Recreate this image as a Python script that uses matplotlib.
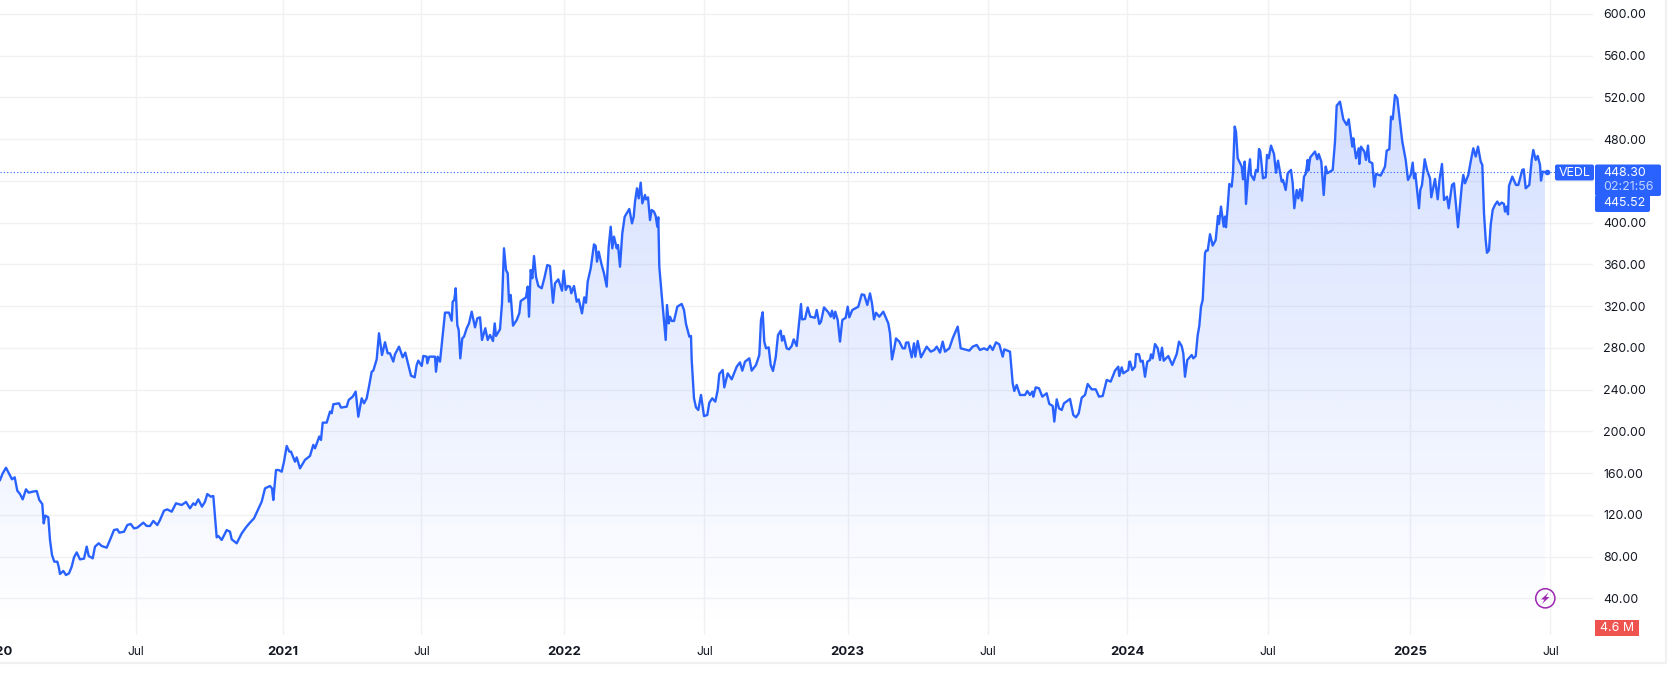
import matplotlib
matplotlib.use("Agg")
import matplotlib.pyplot as plt
from matplotlib.patches import Circle, FancyBboxPatch, Polygon, Rectangle
import numpy as np

plt.rcParams["font.family"] = "Inter"

# x is the position on the chart's own time scale, y is the price
bars = [
    0, 2.7, 6, 9.3, 12, 14.7, 17.3, 20, 22.7, 26, 28.7, 32.7, 36.7, 39.3, 42.3, 43.7, 45.3, 48.3, 50, 52,
    54.3, 57.3, 58.7, 60, 63.3, 66, 69, 71.7, 74, 76.7, 80, 84, 86.7, 88.7, 92.7, 95, 98.7, 101.7, 106.7, 110,
    114, 117.3, 119.3, 124, 127.3, 130.7, 134, 137.3, 143.3, 146.7, 150, 153.3, 157.3, 160, 164, 167.3, 171.7, 176, 181.7, 186,
    190, 193.3, 195.3, 198.3, 202, 205, 207.3, 210.7, 213.3, 215, 216.7, 218.3, 221.7, 226.7, 230, 231.7, 236.7, 241.7, 246, 249.3,
    254, 261.7, 265, 270, 272, 273.3, 276, 278.7, 281.7, 284, 286.7, 289.3, 291, 295, 296.7, 300,
    305, 310, 313.3, 315, 319.3, 321, 322.7, 326.7, 330, 331.7, 333.3, 339, 341, 346.7, 348.7, 352.7, 355.7, 358.3, 361.7, 364,
    366.7, 369.3, 371.7, 373.3, 376.7, 379, 382, 385, 387.7, 390, 393.3, 395, 399, 402.7, 405.3, 408.3, 411, 414.7, 416.7, 418.3,
    421.7, 423.3, 426.7, 427.3, 429.3,
    431.7, 435, 436, 437.7, 440, 442, 445, 449, 451.7, 452.7, 454.3, 455.7, 457.3, 458.7, 460.3, 462.3, 464, 466.7, 469, 471.7,
    475, 477.3, 480, 482, 485.3, 487.7, 490, 493, 494.7, 496, 500, 502, 504, 506, 507.7, 509, 510.7, 513, 516.7, 519.3,
    520.7, 526, 527.7, 529, 530.7, 532.3, 534, 536, 538.3, 541.7, 544.3, 547.3, 550, 553, 555, 558.3, 562, 563.7, 565.7, 567.7,
    570, 571.3, 574, 576.7, 578.7, 582, 584.3, 586, 587.7, 590.7, 594, 595.7, 597, 598.7, 601.3, 604, 606.7, 608.7, 610.7, 612.3,
    614, 616.7, 618, 620, 622.3, 624.7, 629.3, 632, 633.7, 635, 637, 638.7, 640.7, 642.3, 645, 646, 648, 650, 651.7, 654,
    655.7, 657.3, 658.3, 659.3, 661.7, 665.7, 667, 668.7, 670, 671.7, 674, 677.3, 681.7, 684, 686, 689.3, 691,
    691.7, 694, 696, 698.3, 701, 704, 707.3, 709.3, 712.3, 715.3, 717.7, 719.3, 722.7, 724.3, 727.7, 731.7, 736.7, 740, 742.3, 745,
    749.3, 751.7, 756, 759.3, 761, 762.7, 764.3, 766, 768.7, 770.7, 773, 775.7, 778, 780.7, 782, 783.7, 786.7, 789, 791.7, 793.7,
    796.7, 799.3, 801, 802, 805, 807.7, 810.3, 815, 816.7, 819.3, 821, 824, 828.3, 830.7, 832, 834, 835.3, 837.7, 840, 842.3,
    845.7, 847.7, 849.3, 852.3, 858.3, 861.7, 864.3, 867.3, 870, 872, 874, 876, 879.3, 883.3, 888.3, 890, 892, 894, 896, 899.3,
    902.7, 905, 906, 908.3, 911.7, 914, 915.3, 917.7, 921, 926.7, 930.7, 934.3, 936.7, 940, 942.7, 945, 949.3, 952.7, 957.7, 960.7,
    969.3, 972.7, 976.7, 980, 984, 987.3, 990, 992.7, 996, 999.3, 1002.7, 1004.3, 1010, 1012.7, 1014.3, 1016.7, 1020, 1025, 1027.3, 1030,
    1032.3, 1033.3, 1035.7, 1039, 1042.3, 1046.7, 1049.3, 1052.7, 1054.3, 1056.7, 1059, 1061.7, 1064, 1070, 1073.3, 1076, 1078.7, 1081.7, 1085, 1087.7,
    1091.7, 1095.7, 1099, 1102.7, 1106.7, 1110.7, 1115, 1118.3, 1119.3, 1121.7, 1123.3, 1128.3, 1129.3,
    1130, 1132.3, 1135, 1136, 1139, 1140.7, 1142.7, 1145, 1147.3, 1150, 1151, 1152.7, 1155, 1157.7, 1160, 1162, 1163.7, 1168.3, 1172.3, 1176.7,
    1179, 1181.7, 1183.3, 1185, 1187.3, 1191.7, 1193.3, 1195.7, 1197.7, 1199.3, 1201, 1202.7, 1205,
    1206, 1207.7, 1210, 1212.7, 1215.7, 1218, 1219, 1221, 1223.7, 1225, 1226, 1227.7, 1229.3, 1231.7, 1233, 1234.7, 1236, 1237.7, 1241.7, 1243,
    1244.7, 1246, 1248.3, 1250, 1251, 1254, 1256, 1257.7, 1259, 1260.3, 1263, 1265.7, 1267, 1268.7, 1271, 1274, 1276, 1278, 1281.7, 1283,
    1285.7, 1287.7, 1291, 1292.7, 1294.3, 1296.7, 1298.3, 1300, 1302, 1304, 1305.7, 1307.7, 1308.3, 1310.3, 1315, 1317.3, 1318.7, 1321.3, 1323.7, 1325.7,
    1327.3, 1332.7, 1335, 1336.7, 1340, 1343.3, 1346.7, 1348.7, 1352.3, 1353.3, 1356, 1358.7, 1359.3, 1361, 1364.3, 1366, 1368, 1369.3, 1372.3, 1374.3,
    1376, 1380.7, 1385, 1386.7, 1389.3, 1391, 1392.7, 1395, 1397.3, 1402.3, 1405.7, 1408, 1410.7, 1412.7, 1414, 1415.3, 1419, 1420.3, 1422, 1424.7,
    1427, 1430, 1431.3, 1435, 1437.7, 1439.7, 1442, 1444, 1447, 1448.7, 1452, 1454, 1458,
    1461.7, 1463.3, 1465, 1468.3, 1471, 1473.3, 1475.7, 1478, 1480.7, 1482.3, 1484, 1485.7, 1487, 1489, 1490.7, 1492.7, 1495, 1497.3, 1499.3, 1501.7,
    1504, 1505, 1506.7, 1508, 1509, 1512.3, 1516, 1518.3, 1522.3, 1523.7, 1525.7, 1529.3, 1531.7, 1533.3, 1535.7, 1537.7, 1540, 1541, 1542.7, 1545,
]
prices = [
    153.3, 159.7, 165.1, 159.1, 154, 155.9, 143.1, 139.9, 134.8, 144.4, 141.2, 142.2, 142.8, 134.2, 130.3, 111.8, 119.2, 117.6, 95.9, 81.5,
    75.1, 75.1, 70.3, 63.3, 66.2, 62.3, 63.9, 70.3, 79.2, 84, 77.3, 78, 89.5, 80.5, 78.3, 89.5, 92.7, 90.1, 88.5, 95.9,
    105.4, 106.1, 102.9, 103.8, 110.2, 111.2, 107, 107.7, 112.5, 109.3, 109.3, 114.1, 110.2, 115, 124, 125.2, 123, 131, 129.4, 132.3,
    126.2, 131, 129.4, 134.8, 127.8, 132.6, 139.9, 137.4, 138, 118.2, 98.4, 99.7, 95.9, 105.4, 103.8, 96.5, 92.7, 102.2, 108, 111.8,
    116.6, 132.6, 145.3, 147.6, 145.3, 134.2, 162.9, 162.9, 161.3, 170.9, 185.9, 180.5, 180.5, 170.9, 175, 164.5,
    172.6, 176.4, 187, 183.7, 195, 191.7, 208.3, 208.3, 218.9, 217.3, 225.9, 226.8, 222.7, 223.6, 230, 233.2, 238, 214, 231.6, 226.8,
    231.6, 244.4, 257.2, 258.1, 269, 293.9, 273.1, 285.3, 274.7, 274.7, 266.8, 273.8, 281.1, 270.9, 275.4, 263.6, 253.3, 251.7, 263.6, 267.7,
    262.6, 272.2, 271.5, 265.2, 271.5,
    271.5, 271.5, 257.1, 271.5, 266.7, 285.9, 313.7, 313.7, 306, 324.2, 325.8, 337, 301.8, 297, 269.9, 289.1, 290.7, 298.7, 303.4, 314.6,
    299.6, 308.2, 309.2, 287.5, 298.7, 287.5, 292.3, 286.5, 303.4, 291.3, 297.7, 322.6, 375.3, 354.5, 351.3, 324.2, 330.6, 301.2, 306.6, 313,
    324.8, 328.3, 338.6, 309.8, 354.5, 346.6, 367.9, 348.1, 339.2, 337, 346.6, 359.3, 358.3, 323.2, 341.8, 345.6, 334.7, 353.9, 335.4, 339.2,
    338.6, 332.2, 339.2, 324.2, 326.4, 313, 328.3, 323.2, 343.4, 356.1, 379.1, 377.5, 362.5, 372.1, 360.9, 351.3, 338.6, 376.9, 396, 375.3,
    386.5, 375.3, 378.5, 357.7, 389.7, 405.6, 413, 399.2, 405.6, 420, 432.8, 423.2, 438.2, 418.4, 426.4, 422.2, 424.1, 402.4, 412, 410.4,
    406.3, 396, 405, 357.7, 330.6, 287.5, 321, 303.4, 309.8, 305.7, 305.7, 319.4, 322, 316.2, 302.8, 290.7, 291.3,
    268.3, 231.6, 222.9, 220.4, 234.8, 214.6, 215.6, 227.4, 231.6, 228.4, 239.5, 254.9, 258.7, 242.1, 255.5, 249.8, 261.9, 266, 258.1, 266.7,
    269.9, 258.1, 263.5, 273.1, 306.6, 314, 285.9, 279.5, 280.4, 263.5, 257.8, 270.8, 292.2, 296.4, 286.8, 291.3, 279.5, 278.5, 281.7, 288.1,
    281.7, 306.6, 321.9, 307.2, 307.6, 318.7, 309.8, 308.8, 316.2, 302.8, 305, 318.7, 314, 309.8, 315.5, 308.2, 314.6, 306.6, 285.9, 306.6,
    308.8, 319.4, 309.2, 316.2, 319.4, 331.2, 330.6, 321, 332.1, 322.6, 307.2, 313.6, 309.8, 314.6, 303.4, 293.8, 268.9, 277.9, 289, 285.9,
    279.5, 279.5, 284.9, 285.2, 270.9, 284.3, 271.5, 286.5, 270.9, 281.1, 276.3, 277.9, 281.1, 275.4, 285.9, 276.3, 279.5, 289.1, 300.3, 279.5,
    277.3, 281.1, 282.7, 277.9, 279.5, 277.9, 282, 277.9, 285.2, 283.3, 271.5, 278.5, 276.3, 246, 238.6, 244.4, 234.8, 234.8, 238.6, 234.8,
    238, 233.2, 242.1, 241.2, 233.2, 236.4, 226.2, 224.3, 209.3, 230.6, 222, 220.4, 226.8, 231, 215.6, 213.4, 217.2, 232.2, 234.8, 245.3,
    240.2, 240.2, 233.2, 233.8, 249.2, 247.6, 258.1, 261.9, 253, 261.3, 255.6, 258.7, 266.7,
    266.7, 258.7, 261.9, 274, 273.7, 266.7, 267.6, 252.3, 266.7, 268.3, 273.7, 269.9, 283.6, 279.5, 268.3, 280.1, 267.6, 272.1, 263.5, 274,
    285.9, 281.7, 274.7, 252.3, 268.3, 273.1, 269.9, 272.1, 292.2, 300.9, 319.4, 325.8, 370.5,
    373.1, 373.1, 388.8, 377.9, 383.3, 406.3, 398.7, 415.3, 396.1, 405.7, 395.5, 415.3, 437, 434.4, 447.2, 491.9, 487.1, 461.6, 453.6, 441.4,
    458.4, 417.8, 447.2, 460.6, 445.6, 440.8, 450.4, 448.8, 470.5, 468, 442.4, 443.4, 464.8, 461.6, 473.7, 465.7, 447.8, 459.3, 439.2, 440.8,
    431.2, 447.2, 450.4, 437.6, 413.7, 431.2, 423.2, 431.9, 421, 444, 446.6, 460, 449.7, 462.5, 468, 460.6, 465.7, 458.4, 426.4, 453.6,
    447.2, 450.4, 477.5, 512, 515.8, 498.9, 493.5, 498.9, 472.8, 480.7, 461.6, 471.1, 456.1, 472.7, 468, 460, 473.7, 458.4, 456.8, 434.4,
    446.6, 445, 453.6, 468.9, 470.2, 501.5, 498.9, 522.2, 519, 477.5, 460, 440.8, 445.6, 457.4, 442.4, 447.2, 413.7, 431.2, 436, 460.6,
    450.4, 442.4, 424.2, 441.8, 422.3, 442.4, 456.1, 421.6, 424.8, 413.7, 436, 437.6, 395.5,
    434.4, 445.6, 437.6, 445.6, 460, 471.1, 463.2, 472.7, 458.4, 455.2, 408.9, 383.3, 371, 373.5, 397.7, 412.1, 416.9, 420.1, 416.9, 419.1,
    417.8, 410.5, 415.3, 407.9, 435.1, 444, 436, 436, 450.4, 451, 432.8, 436, 460, 469.5, 460, 463.8, 455.2, 440.2, 448.8, 448.3,
]

y_ticks = [40, 80, 120, 160, 200, 240, 280, 320, 360, 400, 440, 480, 520, 560, 600]
# 440.00 sits behind the price tags in the reference
y_labels = ["40.00", "80.00", "120.00", "160.00", "200.00", "240.00", "280.00", "320.00", "360.00", "400.00", "",
            "480.00", "520.00", "560.00", "600.00"]
x_ticks = [135.7, 282.7, 421.3, 564.3, 704.4, 847.7, 987.7, 1127.3, 1267.7, 1410.3, 1550.3]
x_labels = ["Jul", "2021", "Jul", "2022", "Jul", "2023", "Jul", "2024", "Jul", "2025", "Jul"]

last_price = 448.30
countdown = "02:21:56"
prev_label = "445.52"
volume_label = "4.6 M"
symbol = "VEDL"

W, H = 1676, 699
BLUE = "#2962ff"

fig = plt.figure(figsize=(W / 100, H / 100), dpi=100)
fig.patch.set_facecolor("white")
ax = fig.add_axes([0, 1 - 635 / H, 1593 / W, 635 / H])
ax.set_xlim(0, 1593)
ax.set_ylim(4.84, 613.2)

# gradient under the line, clipped to the area below the series
top, bottom = 522, 10
grad = np.zeros((256, 2, 4))
grad[..., :3] = matplotlib.colors.to_rgb(BLUE)
grad[..., 3] = np.linspace(0.2, 0, 256)[:, None]
im = ax.imshow(grad, extent=[0, 1593, bottom, top], origin="upper", aspect="auto", zorder=1, interpolation="bilinear")
ax.set_xlim(0, 1593)
ax.set_ylim(4.84, 613.2)
area = ax.fill_between(bars, prices, bottom, color="none")
im.set_clip_path(area.get_paths()[0], transform=ax.transData)

ax.plot(bars, prices, color=BLUE, lw=1.7, solid_joinstyle="round", zorder=3)
ax.plot(bars[-1] + 1.5, last_price, "o", color=BLUE, ms=4, mew=0, zorder=3)
ax.axhline(last_price, xmax=1555 / 1593, color=BLUE, lw=0.8, ls=(0, (1, 2)), zorder=2)

ax.set_xticks(x_ticks)
ax.set_xticklabels(x_labels, fontsize=8.6, color="#131722")
for lab in ax.get_xticklabels():
    if lab.get_text() != "Jul":
        lab.set_fontweight("bold")
        lab.set_fontsize(9.4)
ax.set_yticks(y_ticks)
ax.set_yticklabels(y_labels, fontsize=8.9, color="#131722")
ax.yaxis.tick_right()
ax.tick_params(axis="both", length=0)
ax.tick_params(axis="x", pad=8)
ax.tick_params(axis="y", pad=7.5)
ax.grid(True, color="#f1f1f4", lw=1)
ax.set_axisbelow(True)
for s in ax.spines.values():
    s.set_visible(False)
ax.annotate("2020", xy=(-5, 0), xycoords=("data", "axes fraction"), xytext=(0, -8), textcoords="offset points",
            ha="center", va="top", fontsize=9.4, fontweight="bold", color="#131722", annotation_clip=False)

# overlay in pixels for the tags, frame and icon
ov = fig.add_axes([0, 0, 1, 1], zorder=5)
ov.set_xlim(0, W)
ov.set_ylim(H, 0)
ov.axis("off")
ov.patch.set_alpha(0)


def tag(x0, y0, x1, y1, color):
    ov.add_patch(FancyBboxPatch((x0 + 2, y0 + 2), x1 - x0 - 4, y1 - y0 - 4, boxstyle="round,pad=2,rounding_size=2",
                                fc=color, ec="none"))


tag(1555, 164.5, 1594, 180.5, BLUE)
tag(1595, 164.5, 1661, 196, BLUE)
tag(1595, 195, 1650, 212, BLUE)
ov.text(1574.5, 172.8, symbol, color="white", fontsize=8.9, ha="center", va="center")
ov.text(1603, 172.8, f"{last_price:.2f}", color="white", fontsize=8.9, ha="left", va="center")
ov.text(1603, 186.8, countdown, color="#c3d3ff", fontsize=8.9, ha="left", va="center")
ov.text(1603, 203.5, prev_label, color="white", fontsize=8.9, ha="left", va="center")

ov.add_patch(Rectangle((1595, 620), 44, 16, fc="#ef5350", ec="none"))
ov.text(1617, 628.3, volume_label, color="white", fontsize=8.9, ha="center", va="center")

ov.add_patch(Circle((1545.3, 598.3), 9.6, fc="none", ec="#9c27b0", lw=1.1))
ov.add_patch(Polygon([(1548.5, 592.5), (1541, 599.5), (1544.5, 599.5), (1542, 604), (1549.5, 597), (1546, 597)],
                     closed=True, fc="#9c27b0", ec="none"))

ov.plot([0, 1666, 1666], [663, 663, 0], color="#f1f1f4", lw=1.6)

fig.savefig("out.png", dpi=100)
